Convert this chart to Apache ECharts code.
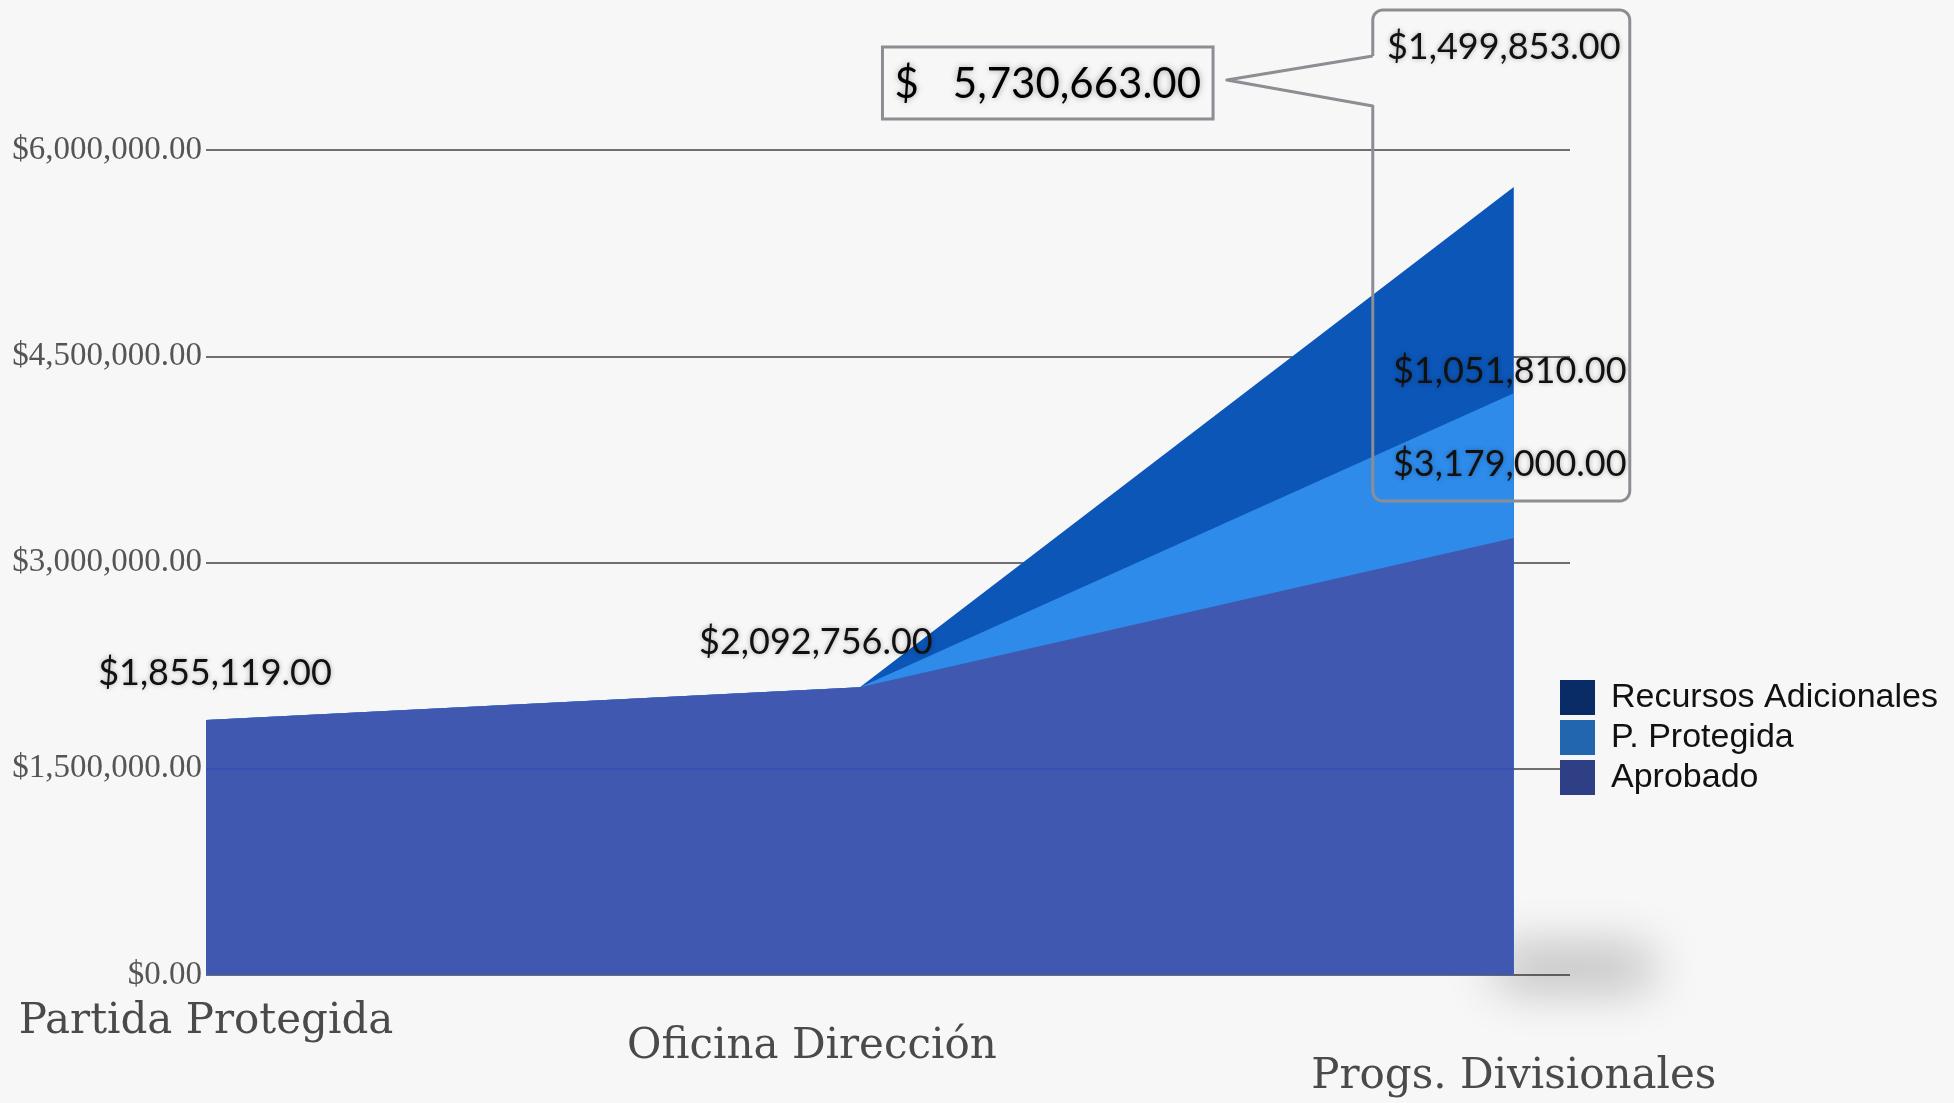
<!DOCTYPE html>
<html>
<head>
<meta charset="utf-8">
<script src="https://cdn.jsdelivr.net/npm/echarts@6/dist/echarts.min.js"></script>
<style>
html,body{margin:0;padding:0;background:#f7f7f7;}
#chart{width:1954px;height:1103px;}
</style>
</head>
<body>
<div id="chart"></div>
<script>
const categories = ['Partida Protegida', 'Oficina Dirección', 'Progs. Divisionales'];
const aprobado = [1855119, 2092756, 3179000];
const pProtegida = [0, 0, 1051810];
const recursosAdicionales = [0, 0, 1499853];
const legendOrder = ['Recursos Adicionales', 'P. Protegida', 'Aprobado'];
const yTickValues = [0, 1500000, 3000000, 4500000, 6000000];

const fmt = v => '$' + v.toLocaleString('en-US', {minimumFractionDigits: 2, maximumFractionDigits: 2});

// stacked tops (built from the arrays above)
const stackAprobado = aprobado.slice();
const stackProtegida = aprobado.map((v, i) => v + pProtegida[i]);
const stackRecursos = stackProtegida.map((v, i) => v + recursosAdicionales[i]);
const total = stackRecursos[2];

const areaColors = {'Aprobado': '#4158b0', 'P. Protegida': '#2e8bea', 'Recursos Adicionales': '#0b56b7'};
const legendColors = {'Aprobado': '#2e3f86', 'P. Protegida': '#2266b0', 'Recursos Adicionales': '#0a2c66'};

const labelFont = {fontFamily: 'Lato, "Open Sans", sans-serif', fontSize: 36, color: '#111',
  textShadowColor: 'rgba(0,0,0,0.3)', textShadowBlur: 5};

const labelOffsets = {
  'Aprobado': [[9, -47], [-44, -45], [-4, -73]],
  'P. Protegida': [null, null, [-4, -22]],
  'Recursos Adicionales': [null, null, [-10, -140]]
};

function buildData(name, tops, own) {
  return tops.map((v, i) => {
    const off = labelOffsets[name][i];
    const item = {value: [i, v]};
    if (off && own[i] > 0) {
      item.label = Object.assign({show: true, position: 'inside', offset: off,
        formatter: () => fmt(own[i])}, labelFont);
    }
    return item;
  });
}

// drawn top layer first so lower layers paint over it
const layers = [
  {name: 'Recursos Adicionales', tops: stackRecursos, own: recursosAdicionales},
  {name: 'P. Protegida', tops: stackProtegida, own: pProtegida},
  {name: 'Aprobado', tops: stackAprobado, own: aprobado}
];

const series = layers.map(l => {
  const s = {
    name: l.name,
    type: 'line',
    smooth: false,
    symbol: 'circle',
    symbolSize: 0,
    showSymbol: true,
    lineStyle: {width: 0},
    itemStyle: {color: areaColors[l.name]},
    areaStyle: {color: areaColors[l.name], opacity: 1},
    emphasis: {disabled: true},
    data: buildData(l.name, l.tops, l.own)
  };
  if (l.name === 'Recursos Adicionales') {
    s.markPoint = {
      symbol: 'circle', symbolSize: 0,
      data: [{coord: [2, total], value: total}],
      label: {
        show: true, position: 'inside', offset: [-466, -104],
        formatter: '{a|$}{b|' + total.toLocaleString('en-US', {minimumFractionDigits: 2}) + '}',
        borderColor: '#8b8e92', borderWidth: 3, padding: [16, 12, 14, 12],
        rich: {
          a: {fontFamily: 'Lato, sans-serif', fontSize: 42, color: '#000', padding: [0, 34, 0, 0],
              textShadowColor: 'rgba(0,0,0,0.35)', textShadowBlur: 6},
          b: {fontFamily: 'Lato, sans-serif', fontSize: 42, color: '#000',
              textShadowColor: 'rgba(0,0,0,0.35)', textShadowBlur: 6}
        }
      }
    };
  }
  if (l.name === 'Aprobado') {
    // gridline seen faintly through the bottom layer
    s.markLine = {
      silent: true, symbol: 'none', label: {show: false},
      lineStyle: {color: '#3550b2', width: 2, type: 'solid'},
      data: [[{coord: [0, yTickValues[1]]}, {coord: [2, yTickValues[1]]}]]
    };
  }
  return s;
});

const serifX = {fontFamily: '"DejaVu Serif", serif', fontSize: 42, color: '#4a4a4a'};

const chart = echarts.init(document.getElementById('chart'));
chart.setOption({
  backgroundColor: '#f7f7f7',
  animation: false,
  grid: {left: 206, right: 384, top: 150, bottom: 128, containLabel: false},
  legend: {
    orient: 'vertical', left: 1555, top: 675,
    itemWidth: 35, itemHeight: 35, itemGap: 5,
    icon: 'rect',
    selectedMode: false,
    textStyle: {fontFamily: '"Liberation Sans", Arial, sans-serif', fontSize: 34, color: '#111', padding: [0, 0, 0, 11]},
    data: legendOrder.map(n => ({name: n, itemStyle: {color: legendColors[n]}}))
  },
  xAxis: {
    type: 'value', min: 0, max: 2.086, interval: 1,
    axisLine: {show: false}, axisTick: {show: false}, splitLine: {show: false},
    axisLabel: {
      margin: 26, showMaxLabel: false,
      formatter: v => (Number.isInteger(v) && categories[v]) ? '{s' + v + '|' + categories[v] + '}' : '',
      rich: {
        s0: Object.assign({padding: [0, 0, 0, 0]}, serifX),
        s1: Object.assign({padding: [25, 96, 0, 0]}, serifX),
        s2: Object.assign({padding: [55, 0, 0, 0]}, serifX)
      }
    }
  },
  yAxis: {
    type: 'value', min: yTickValues[0], max: yTickValues[yTickValues.length - 1],
    interval: yTickValues[1] - yTickValues[0],
    axisLine: {show: false}, axisTick: {show: false},
    axisLabel: {formatter: v => fmt(v), fontFamily: '"Liberation Serif", serif', fontSize: 33, color: '#555', margin: 4},
    splitLine: {lineStyle: {color: '#6f6f6f', width: 2}}
  },
  series: series
});

// callout box around the right-hand labels, anchored to the top data point
const p = chart.convertToPixel({gridIndex: 0}, [2, total]);
const p0 = chart.convertToPixel({gridIndex: 0}, [2, 0]);
const L = p[0] - 141, R = p[0] + 116, T = p[1] - 177, B = p[1] + 314, r = 10;
const tailTop = p[1] - 131, tailBot = p[1] - 81, tipX = p[0] - 287, tipY = p[1] - 107;
function arc(cx, cy, a0, a1) {
  const pts = [];
  for (let k = 0; k <= 6; k++) {
    const a = a0 + (a1 - a0) * k / 6;
    pts.push([cx + r * Math.cos(a), cy + r * Math.sin(a)]);
  }
  return pts;
}
const PI = Math.PI;
const pts = [[L, tailTop]]
  .concat(arc(L + r, T + r, PI, 1.5 * PI))
  .concat(arc(R - r, T + r, 1.5 * PI, 2 * PI))
  .concat(arc(R - r, B - r, 0, 0.5 * PI))
  .concat(arc(L + r, B - r, 0.5 * PI, PI))
  .concat([[L, tailBot], [tipX, tipY], [L, tailTop]]);
const SHIFT = 4000;
chart.setOption({
  graphic: [
    {
      // soft floor shadow: shape drawn off-canvas, only its blurred shadow lands on the page
      type: 'rect', z: 1, silent: true,
      shape: {x: p0[0] - SHIFT - 20, y: p0[1] - 24, width: 160, height: 34, r: 17},
      style: {fill: '#000', shadowColor: 'rgba(0,0,0,0.3)', shadowBlur: 50, shadowOffsetX: SHIFT, shadowOffsetY: 0}
    },
    {
      type: 'polyline', z: 100, silent: true,
      shape: {points: pts},
      style: {fill: null, stroke: '#8b8e92', lineWidth: 3, lineJoin: 'round'}
    }
  ]
});
</script>
</body>
</html>
